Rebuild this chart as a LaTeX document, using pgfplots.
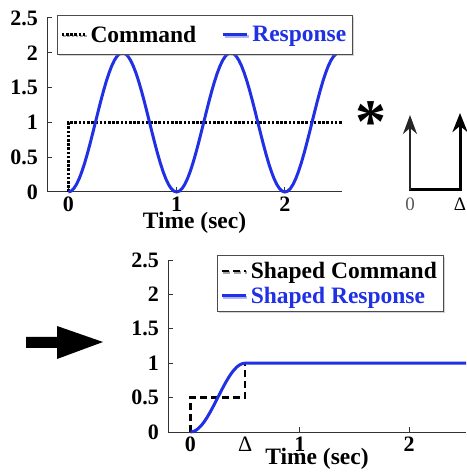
\documentclass[border=0pt]{standalone}
\usepackage{pgfplots}
\pgfplotsset{compat=1.18}
\usepackage{fontspec}
\setmainfont{Liberation Serif}
\usetikzlibrary{shadows,arrows.meta}
\definecolor{myblue}{RGB}{32,48,228}

\pgfplotsset{
  myax/.style={
    scale only axis,
    axis lines=left,
    axis line style={-, black!80, line width=1pt},
    tick style={black!80, line width=1pt},
    tick align=inside,
    major tick length=5pt,
    ymin=0, ymax=2.5,
    ytick={0,0.5,1,1.5,2,2.5},
    xtick={0,1,2},
    /pgf/number format/assume math mode=true,
    ticklabel style={font=\fontsize{22}{22}\selectfont\bfseries},
    xticklabel style={inner sep=0pt, yshift=-5pt},
    yticklabel style={inner sep=0pt, xshift=-9pt},
    xlabel={Time (sec)},
    xlabel style={font=\fontsize{23.5}{23.5}\selectfont\bfseries, at={(axis description cs:0.5,0)}, anchor=north, inner sep=0pt, yshift=-20pt},
    clip=false,
    legend style={font=\fontsize{23.5}{23.5}\selectfont\bfseries, draw=black!70, line width=0.8pt, fill=white,
      drop shadow={shadow xshift=1.5pt, shadow yshift=-1.5pt, opacity=0.35},
      inner xsep=3pt, inner ysep=3pt, nodes={inner sep=3.5pt},
      /tikz/every even column/.append style={column sep=22pt}},
    legend cell align=left,
    legend image code/.code={\draw[#1] (0pt,0pt) -- (24pt,0pt);},
  }
}

\begin{document}
\begin{tikzpicture}
\useasboundingbox (0pt,0pt) rectangle (466pt,474pt);

% ---------- top plot ----------
\begin{axis}[myax, at={(47pt,282pt)}, anchor=south west, width=295pt, height=174pt,
  xmin=-0.197, xmax=2.527, legend columns=2,
  legend style={at={(0.034,1.018)}, anchor=north west, inner ysep=7pt}]
\addplot[black, line width=2.6pt, dash pattern=on 2.6pt off 1.6pt] coordinates {(0,0) (0,1) (2.527,1)};
\addlegendentry{Command}
\addplot[myblue, line width=3pt] coordinates {
(0,0) (0.025,0.0123) (0.05,0.0489) (0.075,0.1090) (0.1,0.1910) (0.125,0.2929) (0.15,0.4122) (0.175,0.5460) (0.2,0.6910) (0.225,0.8436)
(0.25,1) (0.275,1.1564) (0.3,1.3090) (0.325,1.4540) (0.35,1.5878) (0.375,1.7071) (0.4,1.8090) (0.425,1.8910) (0.45,1.9511) (0.475,1.9877)
(0.5,2) (0.525,1.9877) (0.55,1.9511) (0.575,1.8910) (0.6,1.8090) (0.625,1.7071) (0.65,1.5878) (0.675,1.4540) (0.7,1.3090) (0.725,1.1564)
(0.75,1) (0.775,0.8436) (0.8,0.6910) (0.825,0.5460) (0.85,0.4122) (0.875,0.2929) (0.9,0.1910) (0.925,0.1090) (0.95,0.0489) (0.975,0.0123)
(1,0) (1.025,0.0123) (1.05,0.0489) (1.075,0.1090) (1.1,0.1910) (1.125,0.2929) (1.15,0.4122) (1.175,0.5460) (1.2,0.6910) (1.225,0.8436)
(1.25,1) (1.275,1.1564) (1.3,1.3090) (1.325,1.4540) (1.35,1.5878) (1.375,1.7071) (1.4,1.8090) (1.425,1.8910) (1.45,1.9511) (1.475,1.9877)
(1.5,2) (1.525,1.9877) (1.55,1.9511) (1.575,1.8910) (1.6,1.8090) (1.625,1.7071) (1.65,1.5878) (1.675,1.4540) (1.7,1.3090) (1.725,1.1564)
(1.75,1) (1.775,0.8436) (1.8,0.6910) (1.825,0.5460) (1.85,0.4122) (1.875,0.2929) (1.9,0.1910) (1.925,0.1090) (1.95,0.0489) (1.975,0.0123)
(2,0) (2.025,0.0123) (2.05,0.0489) (2.075,0.1090) (2.1,0.1910) (2.125,0.2929) (2.15,0.4122) (2.175,0.5460) (2.2,0.6910) (2.225,0.8436)
(2.25,1) (2.275,1.1564) (2.3,1.3090) (2.325,1.4540) (2.35,1.5878) (2.375,1.7071) (2.4,1.8090) (2.425,1.8910) (2.45,1.9511) (2.475,1.9877)
(2.5,2)};
\addlegendentry{\textcolor{myblue}{Response}}
\end{axis}

% ---------- bottom plot ----------
\begin{axis}[myax, at={(168pt,42pt)}, anchor=south west, width=298pt, height=172pt,
  xmin=-0.205, xmax=2.52,
  extra x ticks={0.5}, extra x tick labels={Δ},
  extra x tick style={major tick length=0pt, xticklabel style={font=\fontsize{22}{22}\selectfont\mdseries}},
  xlabel style={yshift=4pt},
  legend style={at={(0.164,1.029)}, anchor=north west}]
\addplot[black, line width=2.4pt, dash pattern=on 7pt off 4pt] coordinates {(0,0) (0,0.5) (0.5,0.5) (0.5,1) (2.52,1)};
\addlegendentry{Shaped Command}
\addplot[myblue, line width=3pt] coordinates {
(0,0) (0.025,0.0062) (0.05,0.0245) (0.075,0.0545) (0.1,0.0955) (0.125,0.1464) (0.15,0.2061) (0.175,0.2730) (0.2,0.3455) (0.225,0.4218)
(0.25,0.5) (0.275,0.5782) (0.3,0.6545) (0.325,0.7270) (0.35,0.7939) (0.375,0.8536) (0.4,0.9045) (0.425,0.9455) (0.45,0.9755) (0.475,0.9938)
(0.5,1) (2.52,1)};
\addlegendentry{\textcolor{myblue}{Shaped Response}}
\end{axis}

% ---------- convolution asterisk and impulse sequence ----------
\node[anchor=north, inner sep=0pt, font=\fontsize{62}{62}\selectfont\bfseries] at (371pt,373pt) {*};
\draw[line width=3pt] (409.3pt,284pt) -- (461.5pt,284pt);
\draw[line width=1.6pt, black!85, -{Stealth[length=19pt,width=14pt,inset=6pt]}] (410pt,284pt) -- (410pt,359pt);
\draw[line width=3pt, -{Stealth[length=19pt,width=15pt,inset=6pt]}] (460pt,284pt) -- (460pt,361pt);
\node[font=\fontsize{19}{19}\selectfont, text=black!65] at (410pt,270pt) {0};
\node[font=\fontsize{19}{19}\selectfont] at (460pt,270pt) {Δ};

% ---------- big arrow ----------
\fill (26pt,126pt) -- (57pt,126pt) -- (57pt,115pt) -- (103pt,132pt) -- (57pt,148pt) -- (57pt,137pt) -- (26pt,137pt) -- cycle;
\end{tikzpicture}
\end{document}
